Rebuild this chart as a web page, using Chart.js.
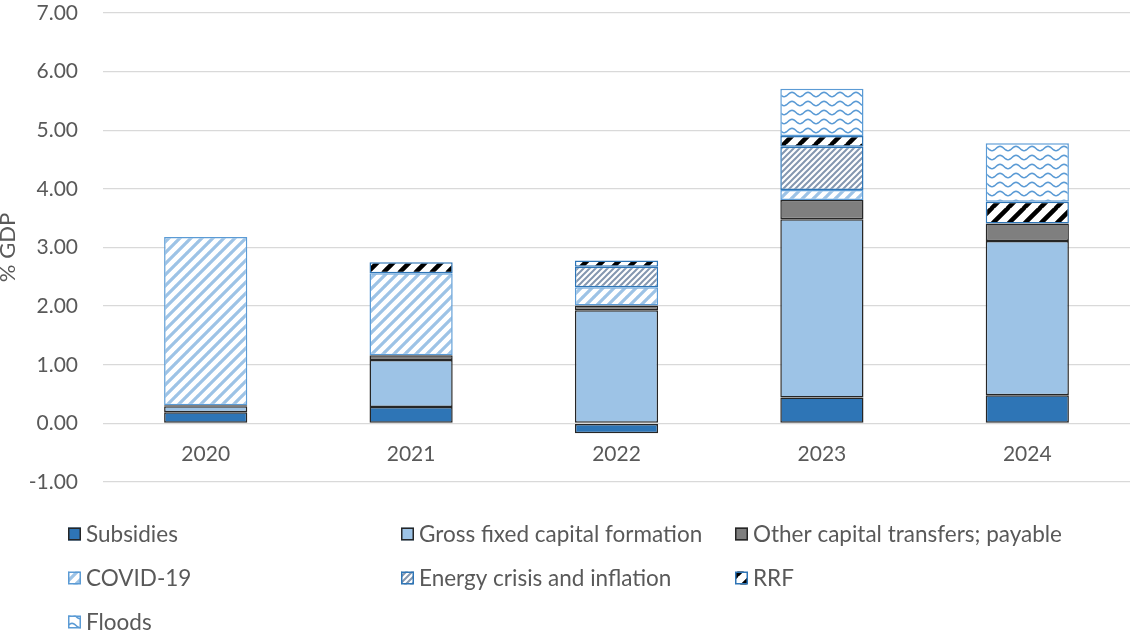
<!DOCTYPE html>
<html lang="en">
<head>
  <meta charset="UTF-8">
  <title>Expenditure measures - % GDP</title>
  <script src="https://cdn.jsdelivr.net/npm/chart.js@4.4.1/dist/chart.umd.min.js"></script>
  <style>
    body { margin: 0; padding: 0; background: #ffffff; }
    #wrap { width: 1137px; height: 635px; position: relative; }
  </style>
</head>
<body>
  <div id="wrap"><canvas id="chart"></canvas></div>

  <script>
    // values (% of GDP)
    const years = ['2020', '2021', '2022', '2023', '2024'];
    const subsidies = [0.19, 0.28, -0.17, 0.44, 0.48];
    const grossFixedCapital = [0.10, 0.80, 1.93, 3.04, 2.63];
    const otherCapitalTransfers = [0.02, 0.08, 0.08, 0.33, 0.30];
    const covid = [2.87, 1.40, 0.31, 0.17, null];
    const energyCrisis = [null, null, 0.35, 0.74, null];
    const rrf = [null, 0.19, 0.11, 0.18, 0.37];
    const floods = [null, null, null, 0.81, 1.00];
    const yTicks = [-1, 0, 1, 2, 3, 4, 5, 6, 7];

    const FONT = 'Lato, "Open Sans", sans-serif';
    const TEXT = '#595959';

    function tile(w, h, draw) {
      const c = document.createElement('canvas');
      c.width = w; c.height = h;
      const g = c.getContext('2d');
      g.fillStyle = '#ffffff';
      g.fillRect(0, 0, w, h);
      draw(g, w, h);
      return document.getElementById('chart').getContext('2d').createPattern(c, 'repeat');
    }

    function diagonal(color, width) {
      return (g, s) => {
        g.strokeStyle = color;
        g.lineWidth = width;
        g.beginPath();
        for (let k = -1; k <= 1; k++) {
          g.moveTo(k * s - 1, s + 1);
          g.lineTo(k * s + s + 1, -1);
        }
        g.stroke();
      };
    }

    const covidFill = tile(11, 11, diagonal('#9dc3e6', 3.2));
    const energyFill = tile(6, 6, diagonal('#8497b0', 2));
    const rrfFill = tile(16, 16, diagonal('#000000', 4.5));
    const floodsFill = tile(16, 9, (g, w, h) => {
      g.strokeStyle = '#5b9bd5';
      g.lineWidth = 1.6;
      g.beginPath();
      for (let x = -1; x <= w + 1; x++) {
        const y = 4.5 + 2.2 * Math.cos((x / w) * 2 * Math.PI);
        if (x === -1) g.moveTo(x, y); else g.lineTo(x, y);
      }
      g.stroke();
    });

    function ds(label, data, fill, border) {
      return {
        label, data,
        backgroundColor: fill,
        borderColor: border,
        borderWidth: 1.5,
        borderSkipped: false,
        categoryPercentage: 1,
        barPercentage: 0.405
      };
    }

    // legend in three columns, like the original
    const gridLegend = {
      id: 'gridLegend',
      afterDraw(chart) {
        const ctx = chart.ctx;
        const colX = [68, 401, 735];
        const rowY = [534, 578, 622];
        ctx.save();
        ctx.font = '22.5px ' + FONT;
        ctx.textBaseline = 'middle';
        ctx.textAlign = 'left';
        chart.data.datasets.forEach((d, i) => {
          const x = colX[i % 3], y = rowY[Math.floor(i / 3)];
          ctx.fillStyle = d.backgroundColor;
          ctx.fillRect(x, y - 6.5, 13, 13);
          ctx.strokeStyle = d.borderColor;
          ctx.lineWidth = 1.5;
          ctx.strokeRect(x + 0.75, y - 5.75, 11.5, 11.5);
          ctx.fillStyle = TEXT;
          ctx.fillText(d.label, x + 18, y + 1);
        });
        ctx.restore();
      }
    };

    // y axis title, sitting at the left edge of the picture
    const yTitle = {
      id: 'yTitle',
      afterDraw(chart) {
        const ctx = chart.ctx;
        const a = chart.chartArea;
        ctx.save();
        ctx.translate(15, (a.top + a.bottom) / 2);
        ctx.rotate(-Math.PI / 2);
        ctx.font = '22px ' + FONT;
        ctx.fillStyle = TEXT;
        ctx.textAlign = 'center';
        ctx.textBaseline = 'alphabetic';
        ctx.fillText('% GDP', 0, 0);
        ctx.restore();
      }
    };

    new Chart(document.getElementById('chart'), {
      type: 'bar',
      data: {
        labels: years,
        datasets: [
          ds('Subsidies', subsidies, '#2e75b6', '#262626'),
          ds('Gross fixed capital formation', grossFixedCapital, '#9dc3e6', '#262626'),
          ds('Other capital transfers; payable', otherCapitalTransfers, '#7f7f7f', '#262626'),
          ds('COVID-19', covid, covidFill, '#5b9bd5'),
          ds('Energy crisis and inflation', energyCrisis, energyFill, '#2e75b6'),
          ds('RRF', rrf, rrfFill, '#2e75b6'),
          ds('Floods', floods, floodsFill, '#5b9bd5')
        ]
      },
      options: {
        responsive: true,
        maintainAspectRatio: false,
        animation: false,
        layout: { padding: { left: 0, right: 7, top: 13, bottom: 153 } },
        plugins: {
          legend: { display: false },
          tooltip: { enabled: false }
        },
        scales: {
          x: {
            stacked: true,
            position: { y: 0 },
            afterFit: s => { s.height = 0; s.paddingTop = 0; s.paddingBottom = 0; },
            grid: { display: false, drawTicks: false },
            border: { display: false },
            ticks: { padding: 18, color: TEXT, font: { family: FONT, size: 21 } }
          },
          y: {
            stacked: true,
            min: yTicks[0],
            max: yTicks[yTicks.length - 1],
            afterBuildTicks: s => { s.ticks = yTicks.map(v => ({ value: v })); },
            afterFit: s => { s.width = 103; s.paddingTop = 0; s.paddingBottom = 0; },
            grid: { color: '#d9d9d9', lineWidth: 1.3, drawTicks: false },
            border: { display: false },
            ticks: {
              padding: 25,
              color: TEXT,
              font: { family: FONT, size: 21 },
              callback: v => v.toFixed(2)
            }
          }
        }
      },
      plugins: [gridLegend, yTitle]
    });
  </script>
</body>
</html>
